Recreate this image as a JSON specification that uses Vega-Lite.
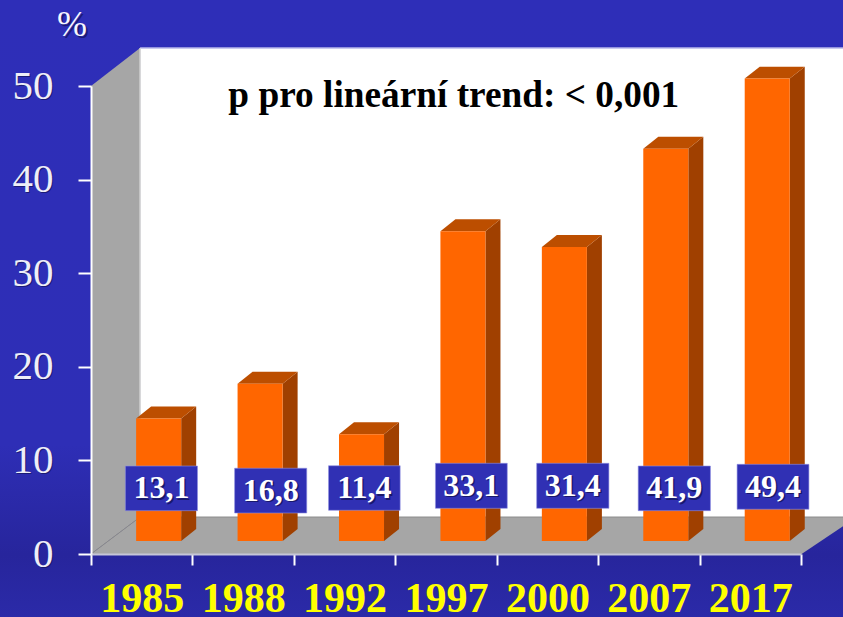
{
"$schema":"https://vega.github.io/schema/vega-lite/v6.json",
"width":710,"height":468,
"autosize":{"type":"none"},
"padding":{"left":91,"top":86,"right":42,"bottom":63},
"background":"#2e2eb6",
"view":{"stroke":null},
"config":{"view":{"stroke":null},"text":{"font":"Liberation Serif"}},
"datasets":{
"bars":[
{"year":"1985","value":13.1,"label":"13,1","left":0.445,"right":0.889,"bx1":0.339,"bx2":1.05,"btop":9.4,"bbot":4.63,"lx":0.6945,"ly":7.015,"mid":0.5},
{"year":"1988","value":16.8,"label":"16,8","left":1.445,"right":1.889,"bx1":1.416,"bx2":2.127,"btop":9.16,"bbot":4.38,"lx":1.7715,"ly":6.77,"mid":1.5},
{"year":"1992","value":11.4,"label":"11,4","left":2.445,"right":2.889,"bx1":2.342,"bx2":3.048,"btop":9.43,"bbot":4.67,"lx":2.695,"ly":7.05,"mid":2.5},
{"year":"1997","value":33.1,"label":"33,1","left":3.445,"right":3.889,"bx1":3.396,"bx2":4.104,"btop":9.69,"bbot":4.88,"lx":3.75,"ly":7.285,"mid":3.5},
{"year":"2000","value":31.4,"label":"31,4","left":4.445,"right":4.889,"bx1":4.394,"bx2":5.106,"btop":9.69,"bbot":4.88,"lx":4.75,"ly":7.285,"mid":4.5},
{"year":"2007","value":41.9,"label":"41,9","left":5.445,"right":5.889,"bx1":5.395,"bx2":6.107,"btop":9.4,"bbot":4.63,"lx":5.751,"ly":7.015,"mid":5.5},
{"year":"2017","value":49.4,"label":"49,4","left":6.445,"right":6.889,"bx1":6.37,"bx2":7.078,"btop":9.58,"bbot":4.78,"lx":6.724,"ly":7.18,"mid":6.5}
],
"sides":[
{"year":"1985","x":0.889,"y":13.1,"y2":0},{"year":"1985","x":1.037,"y":14.38,"y2":1.28},
{"year":"1988","x":1.889,"y":16.8,"y2":0},{"year":"1988","x":2.037,"y":18.08,"y2":1.28},
{"year":"1992","x":2.889,"y":11.4,"y2":0},{"year":"1992","x":3.037,"y":12.68,"y2":1.28},
{"year":"1997","x":3.889,"y":33.1,"y2":0},{"year":"1997","x":4.037,"y":34.38,"y2":1.28},
{"year":"2000","x":4.889,"y":31.4,"y2":0},{"year":"2000","x":5.037,"y":32.68,"y2":1.28},
{"year":"2007","x":5.889,"y":41.9,"y2":0},{"year":"2007","x":6.037,"y":43.18,"y2":1.28},
{"year":"2017","x":6.889,"y":49.4,"y2":0},{"year":"2017","x":7.037,"y":50.68,"y2":1.28}
],
"tops":[
{"year":"1985","x":0.445,"y":13.1,"y2":13.1},{"year":"1985","x":0.593,"y":14.38,"y2":13.1},{"year":"1985","x":0.889,"y":14.38,"y2":13.1},{"year":"1985","x":1.037,"y":14.38,"y2":14.38},
{"year":"1988","x":1.445,"y":16.8,"y2":16.8},{"year":"1988","x":1.593,"y":18.08,"y2":16.8},{"year":"1988","x":1.889,"y":18.08,"y2":16.8},{"year":"1988","x":2.037,"y":18.08,"y2":18.08},
{"year":"1992","x":2.445,"y":11.4,"y2":11.4},{"year":"1992","x":2.593,"y":12.68,"y2":11.4},{"year":"1992","x":2.889,"y":12.68,"y2":11.4},{"year":"1992","x":3.037,"y":12.68,"y2":12.68},
{"year":"1997","x":3.445,"y":33.1,"y2":33.1},{"year":"1997","x":3.593,"y":34.38,"y2":33.1},{"year":"1997","x":3.889,"y":34.38,"y2":33.1},{"year":"1997","x":4.037,"y":34.38,"y2":34.38},
{"year":"2000","x":4.445,"y":31.4,"y2":31.4},{"year":"2000","x":4.593,"y":32.68,"y2":31.4},{"year":"2000","x":4.889,"y":32.68,"y2":31.4},{"year":"2000","x":5.037,"y":32.68,"y2":32.68},
{"year":"2007","x":5.445,"y":41.9,"y2":41.9},{"year":"2007","x":5.593,"y":43.18,"y2":41.9},{"year":"2007","x":5.889,"y":43.18,"y2":41.9},{"year":"2007","x":6.037,"y":43.18,"y2":43.18},
{"year":"2017","x":6.445,"y":49.4,"y2":49.4},{"year":"2017","x":6.593,"y":50.68,"y2":49.4},{"year":"2017","x":6.889,"y":50.68,"y2":49.4},{"year":"2017","x":7.037,"y":50.68,"y2":50.68}
],
"wall":[{"x":0,"y":50,"y2":0},{"x":0.484,"y":54.06,"y2":3.95}],
"floor":[{"x":0,"y":0,"y2":0},{"x":0.484,"y":3.95,"y2":0},{"x":7.006,"y":3.95,"y2":0},{"x":7.431,"y":3.95,"y2":3.1}],
"ticks":[{"v":0,"t":"0"},{"v":10,"t":"10"},{"v":20,"t":"20"},{"v":30,"t":"30"},{"v":40,"t":"40"},{"v":50,"t":"50"}]
},
"layer":[
{"data":{"values":[{"x":-0.899,"x2":7.431,"y":59.19,"y2":-6.73}]},
 "mark":{"type":"rect","clip":false,"color":{"gradient":"linear","x1":0,"y1":0,"x2":0,"y2":1,"stops":[{"offset":0,"color":"#2e2eb8"},{"offset":0.72,"color":"#2e2eb6"},{"offset":0.9,"color":"#27259c"},{"offset":1,"color":"#2b2aa8"}]}},
 "encoding":{
  "x":{"field":"x","type":"quantitative","scale":{"domain":[0,7],"nice":false,"zero":false},
    "axis":{"title":null,"grid":false,"values":[0,0.5,1,1.5,2,2.5,3,3.5,4,4.5,5,5.5,6,6.5,7],
      "labelExpr":"datum.value % 1 === 0 ? '' : ['1985','1988','1992','1997','2000','2007','2017'][floor(datum.value)]",
      "labelFont":"Liberation Serif","labelFontSize":42,"labelFontWeight":"bold","labelColor":"#ffff00","labelBaseline":"alphabetic","labelPadding":46,"labelOverlap":false,"labelFlush":false,"labelBound":false,
      "tickColor":"#ffffff","tickWidth":2,"tickSize":11,"tickOpacity":{"condition":{"test":"datum.value % 1 === 0","value":1},"value":0},
      "domainColor":"#c6c6d8","domainWidth":2,"zindex":1}},
  "x2":{"field":"x2"},
  "y":{"field":"y","type":"quantitative","scale":{"domain":[0,50],"nice":false,"zero":false},
    "axis":{"title":null,"grid":false,"values":[0,10,20,30,40,50],
      "labelFont":"Liberation Serif","labelFontSize":41,"labelColor":"#eeeef8","labelPadding":25,"labelOverlap":false,"labelBound":false,"labelFlush":false,
      "tickColor":"#ffffff","tickWidth":2,"tickSize":13,"domainColor":"#ffffff","domainWidth":2,"zindex":1}},
  "y2":{"field":"y2"}
 }},
{"data":{"name":"wall"},"mark":{"type":"area","orient":"vertical","color":"#a6a6a6","clip":false},
 "encoding":{"x":{"field":"x","type":"quantitative"},"y":{"field":"y","type":"quantitative","stack":null},"y2":{"field":"y2"}}},
{"data":{"name":"floor"},"mark":{"type":"area","orient":"vertical","color":"#a6a6a6","clip":false},
 "encoding":{"x":{"field":"x","type":"quantitative"},"y":{"field":"y","type":"quantitative","stack":null},"y2":{"field":"y2"}}},
{"data":{"values":[{"x":0.484,"x2":7.431,"y":54.06,"y2":3.95}]},"mark":{"type":"rect","color":"#ffffff","clip":false},
 "encoding":{"x":{"field":"x","type":"quantitative"},"x2":{"field":"x2"},"y":{"field":"y","type":"quantitative"},"y2":{"field":"y2"}}},
{"data":{"values":[{"x":0.484,"x2":7.431,"y":54.06}]},"mark":{"type":"rule","color":"#b9b9ea","strokeWidth":1.5,"clip":false},
 "encoding":{"x":{"field":"x","type":"quantitative"},"x2":{"field":"x2"},"y":{"field":"y","type":"quantitative"}}},
{"data":{"values":[{"x":0.484,"x2":7.431,"y":3.95}]},"mark":{"type":"rule","color":"#8c8c8c","strokeWidth":1,"clip":false},
 "encoding":{"x":{"field":"x","type":"quantitative"},"x2":{"field":"x2"},"y":{"field":"y","type":"quantitative"}}},
{"data":{"values":[{"x":0.484,"y":54.06,"y2":3.95}]},"mark":{"type":"rule","color":"#d4d4d4","strokeWidth":1.5,"clip":false},
 "encoding":{"x":{"field":"x","type":"quantitative"},"y":{"field":"y","type":"quantitative"},"y2":{"field":"y2"}}},
{"data":{"values":[{"x":0,"y":0},{"x":0.445,"y":3.63}]},"mark":{"type":"line","color":"#8a8a8a","strokeWidth":1,"clip":false},
 "encoding":{"x":{"field":"x","type":"quantitative"},"y":{"field":"y","type":"quantitative"}}},
{"data":{"name":"sides"},"mark":{"type":"area","orient":"vertical","color":"#a04000","yOffset":-13,"y2Offset":-13,"clip":false},
 "encoding":{"x":{"field":"x","type":"quantitative"},"y":{"field":"y","type":"quantitative","stack":null},"y2":{"field":"y2"},"detail":{"field":"year"}}},
{"data":{"name":"tops"},"mark":{"type":"area","orient":"vertical","color":"#bc4e00","yOffset":-13,"y2Offset":-13,"clip":false},
 "encoding":{"x":{"field":"x","type":"quantitative"},"y":{"field":"y","type":"quantitative","stack":null},"y2":{"field":"y2"},"detail":{"field":"year"}}},
{"data":{"name":"bars"},"mark":{"type":"rect","color":"#ff6600","yOffset":-13,"y2Offset":-13,"clip":false},
 "encoding":{"x":{"field":"left","type":"quantitative"},"x2":{"field":"right"},"y":{"field":"value","type":"quantitative"},"y2":{"datum":0}}},
{"data":{"name":"bars"},"mark":{"type":"rect","color":"#3030b4","stroke":"#8f8fe0","strokeWidth":0.6,"clip":false},
 "encoding":{"x":{"field":"bx1","type":"quantitative"},"x2":{"field":"bx2"},"y":{"field":"btop","type":"quantitative"},"y2":{"field":"bbot"}}},
{"data":{"name":"bars"},"mark":{"type":"text","fontSize":32,"fontWeight":"bold","font":"Liberation Serif","color":"#14145a","opacity":0.8,"dx":1.5,"dy":1.5,"baseline":"middle","clip":false},
 "encoding":{"x":{"field":"lx","type":"quantitative"},"y":{"field":"ly","type":"quantitative"},"text":{"field":"label"}}},
{"data":{"name":"bars"},"mark":{"type":"text","fontSize":32,"fontWeight":"bold","font":"Liberation Serif","color":"#ffffff","baseline":"middle","clip":false},
 "encoding":{"x":{"field":"lx","type":"quantitative"},"y":{"field":"ly","type":"quantitative"},"text":{"field":"label"}}},
{"data":{"name":"ticks"},"mark":{"type":"text","fontSize":41,"font":"Liberation Serif","color":"#14145a","opacity":0.7,"align":"right","baseline":"middle","dx":-36.5,"dy":1.5,"clip":false},
 "encoding":{"x":{"datum":0,"type":"quantitative"},"y":{"field":"v","type":"quantitative"},"text":{"field":"t"}}},
{"data":{"values":[{"x":-0.188,"y":56.5,"t":"%"}]},"mark":{"type":"text","fontSize":36,"font":"Liberation Serif","color":"#14145a","opacity":0.7,"baseline":"middle","dx":2,"dy":2,"clip":false},
 "encoding":{"x":{"field":"x","type":"quantitative"},"y":{"field":"y","type":"quantitative"},"text":{"field":"t"}}},
{"data":{"values":[{"x":-0.188,"y":56.5,"t":"%"}]},"mark":{"type":"text","fontSize":36,"font":"Liberation Serif","color":"#f6f6ff","baseline":"middle","clip":false},
 "encoding":{"x":{"field":"x","type":"quantitative"},"y":{"field":"y","type":"quantitative"},"text":{"field":"t"}}},
{"data":{"values":[{"x":3.577,"y":48.9,"t":"p pro lineární trend: < 0,001"}]},"mark":{"type":"text","fontSize":37.3,"fontWeight":"bold","font":"Liberation Serif","color":"#000000","baseline":"middle","clip":false},
 "encoding":{"x":{"field":"x","type":"quantitative"},"y":{"field":"y","type":"quantitative"},"text":{"field":"t"}}}
]
}
